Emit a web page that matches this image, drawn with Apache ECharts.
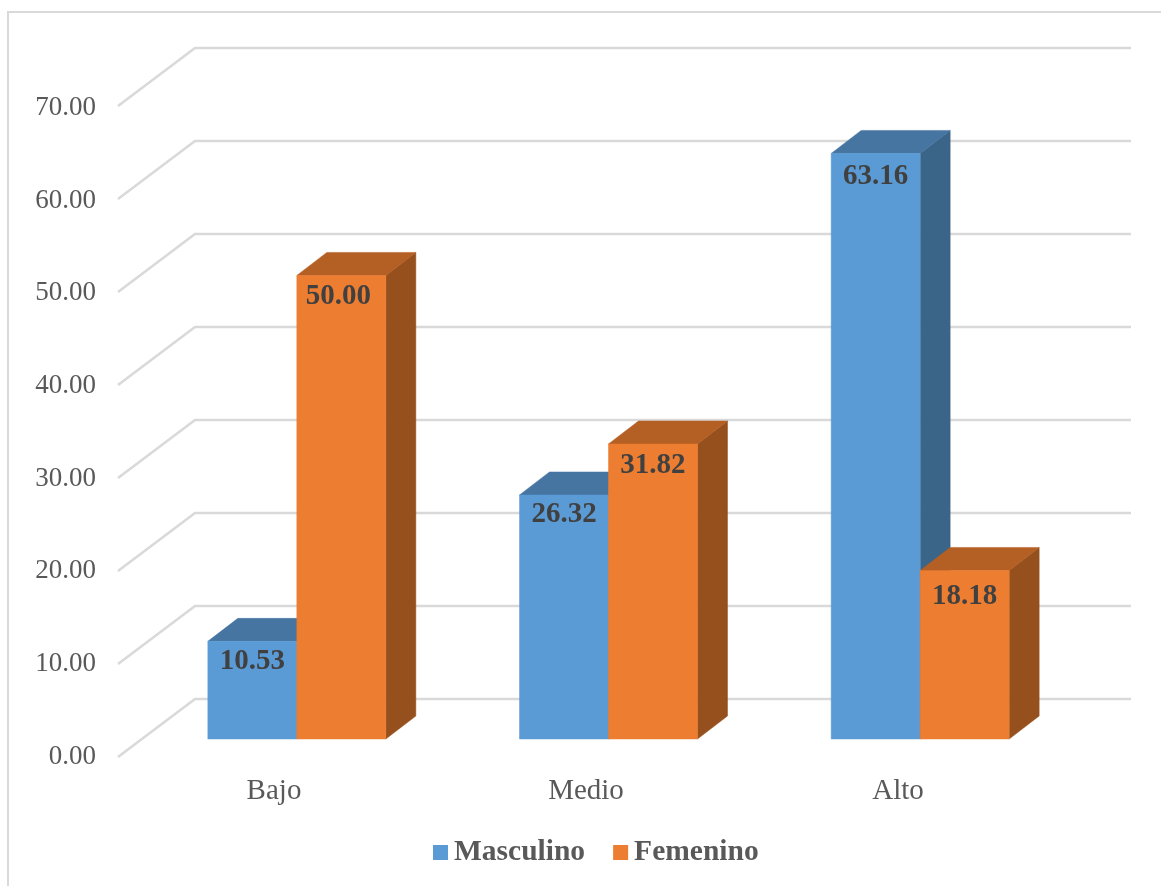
<!DOCTYPE html>
<html>
<head>
<meta charset="utf-8">
<style>html,body{margin:0;padding:0;background:#fff}#chart{width:1161px;height:886px}</style>
<script src="https://cdn.jsdelivr.net/npm/echarts@6/dist/echarts.min.js"></script>
</head>
<body>
<div id="chart"></div>
<script>
// Levels and percentage per gender
const categories = ['Bajo', 'Medio', 'Alto'];
const masculino = [10.53, 26.32, 63.16];
const femenino = [50.00, 31.82, 18.18];
const yTicks = [0, 10, 20, 30, 40, 50, 60, 70];

// Pseudo-3D projection of the box shapes and walls
const WALL_DX = 77, WALL_DY = 58;
const BAR_DX = 30, BAR_DY = 23;
const BAR_RATIO = 89 / 311.7;
// Offset of each value label from the top centre of its bar
const labelDropMasculino = [20.6, 20, 23];
const labelDropFemenino = [20.6, 22, 26.4];
const labelShiftMasculino = [0, 0, 0];
const labelShiftFemenino = [-3, 0, 0];

const serif = '"Liberation Serif", "Times New Roman", serif';
const GRID_COLOR = '#d9d9d9';

function boxSeries(name, values, drops, shifts, side, colors) {
  return {
    name: name,
    type: 'custom',
    xAxisIndex: 1,
    yAxisIndex: 1,
    z: 3,
    clip: false,
    itemStyle: { color: colors.front },
    data: values.map((v, i) => [i, v]),
    encode: { x: 0, y: 1 },
    renderItem: function (params, api) {
      const i = api.value(0);
      const v = api.value(1);
      const top = api.coord([i, v]);
      const base = api.coord([i, 0]);
      const w = api.size([1, 0])[0] * BAR_RATIO;
      const x0 = side < 0 ? top[0] - w : top[0];
      const x1 = x0 + w;
      const yT = top[1], yB = base[1];
      const poly = (pts, fill) => ({
        type: 'polygon',
        shape: { points: pts },
        style: { fill: fill, stroke: fill, lineWidth: 0.5 }
      });
      return {
        type: 'group',
        children: [
          poly([[x1, yT], [x1 + BAR_DX, yT - BAR_DY], [x1 + BAR_DX, yB - BAR_DY], [x1, yB]], colors.side),
          poly([[x0, yT], [x0 + BAR_DX, yT - BAR_DY], [x1 + BAR_DX, yT - BAR_DY], [x1, yT]], colors.top),
          poly([[x0, yT], [x1, yT], [x1, yB], [x0, yB]], colors.front),
          {
            type: 'text',
            z2: 10,
            style: {
              x: (x0 + x1) / 2 + shifts[i],
              y: yT + drops[i],
              text: v.toFixed(2),
              align: 'center',
              verticalAlign: 'middle',
              font: 'bold 29px ' + serif,
              fill: '#404040'
            }
          }
        ]
      };
    }
  };
}

const option = {
  animation: false,
  backgroundColor: '#ffffff',
  graphic: [{
    type: 'polyline',
    silent: true,
    shape: { points: [[8, 886], [8, 12], [1161, 12]] },
    style: { stroke: GRID_COLOR, lineWidth: 2, fill: null }
  }],
  legend: {
    left: 433,
    top: 837.5,
    padding: 0,
    itemWidth: 15,
    itemHeight: 15,
    itemGap: 28,
    icon: 'rect',
    data: ['Masculino', 'Femenino'],
    textStyle: { fontFamily: serif, fontWeight: 'bold', fontSize: 29.5, color: '#595959', padding: [2, 0, 0, 1] }
  },
  grid: [
    // axis labels along the front of the floor
    { left: 118, width: 936, top: 108, height: 648.5, outerBoundsMode: 'none' },
    // plane the boxes stand on
    { left: 141, width: 935, top: 90, height: 649, outerBoundsMode: 'none' },
    // front edge of the side wall and floor
    { left: 118, width: 936, top: 106, height: 651, outerBoundsMode: 'none' }
  ],
  xAxis: [
    {
      gridIndex: 0, type: 'category', data: categories,
      axisLine: { show: false }, axisTick: { show: false }, splitLine: { show: false },
      axisLabel: { fontFamily: serif, fontSize: 29, color: '#595959', margin: 20.5 }
    },
    { gridIndex: 1, type: 'category', data: categories, show: false },
    { gridIndex: 2, type: 'category', data: categories, show: false }
  ],
  yAxis: [
    {
      gridIndex: 0, type: 'value', min: 0, max: 70, interval: 10,
      axisLine: { show: false }, axisTick: { show: false }, splitLine: { show: false },
      axisLabel: {
        fontFamily: serif, fontSize: 27, color: '#595959', margin: 22,
        formatter: v => v.toFixed(2)
      }
    },
    { gridIndex: 1, type: 'value', min: 0, max: 70, interval: 10, show: false },
    { gridIndex: 2, type: 'value', min: 0, max: 70, interval: 10, show: false }
  ],
  series: [
    {
      type: 'custom',
      xAxisIndex: 2,
      yAxisIndex: 2,
      z: 1,
      silent: true,
      clip: false,
      data: yTicks.map(v => [0, v]),
      encode: { x: 0, y: 1 },
      renderItem: function (params, api) {
        const p = api.coord([0, api.value(1)]);
        const band = api.size([1, 0])[0];
        const xFront = p[0] - band / 2;
        const xEnd = xFront + band * categories.length + WALL_DX;
        return {
          type: 'polyline',
          shape: { points: [[xFront, p[1]], [xFront + WALL_DX, p[1] - WALL_DY], [xEnd, p[1] - WALL_DY]] },
          style: { stroke: GRID_COLOR, lineWidth: 2.5, fill: null }
        };
      }
    },
    boxSeries('Masculino', masculino, labelDropMasculino, labelShiftMasculino, -1,
      { front: '#5b9bd5', top: '#4675a2', side: '#3a6488' }),
    boxSeries('Femenino', femenino, labelDropFemenino, labelShiftFemenino, 1,
      { front: '#ed7d31', top: '#b45f23', side: '#96501d' })
  ]
};

const chart = echarts.init(document.getElementById('chart'), null, { renderer: 'canvas' });
chart.setOption(option);
</script>
</body>
</html>
